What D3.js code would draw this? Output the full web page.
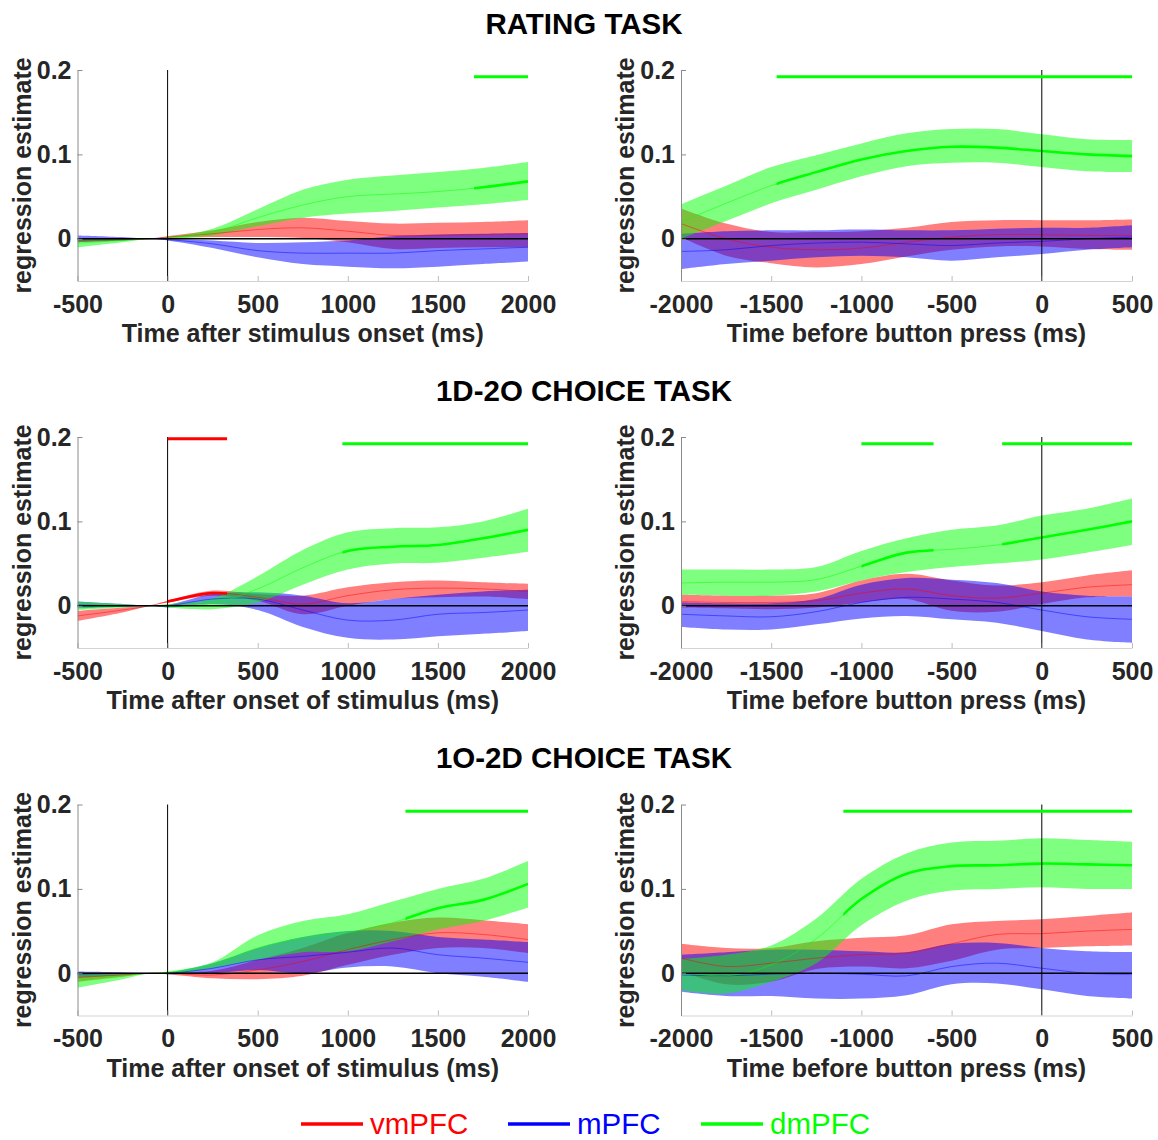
<!DOCTYPE html>
<html>
<head>
<meta charset="utf-8">
<script src="https://cdn.jsdelivr.net/npm/d3@7"></script>
<style>
  html, body { margin: 0; padding: 0; background: #fff; }
  svg { display: block; font-family: "Liberation Sans", Arial, Helvetica, sans-serif; }
</style>
</head>
<body>
<svg id="chart" width="1158" height="1140"></svg>
<script>
// ---------------- DATA ----------------
const seriesNames = ["vmPFC", "mPFC", "dmPFC"];
const seriesColors = ["#ff0000", "#0000ff", "#00ff00"];
const rowTitles = ["RATING TASK", "1D-2O CHOICE TASK", "1O-2D CHOICE TASK"];
const xLabelsLeft = ["Time after stimulus onset (ms)", "Time after onset of stimulus (ms)", "Time after onset of stimulus (ms)"];
const xLabelRight = "Time before button press (ms)";
const yLabel = "regression estimate";
const stimTicks = [-500, 0, 500, 1000, 1500, 2000];
const pressTicks = [-2000, -1500, -1000, -500, 0, 500];
const yTicks = [0, 0.1, 0.2];

// time grids
const tStim = [-500, -250, -100, 0, 250, 500, 750, 1000, 1250, 1500, 1750, 2000];
const tPress = [-2000, -1750, -1500, -1250, -1000, -750, -500, -250, 0, 250, 500];

// Panel 1: rating task, stimulus-locked
const ratingStimVmMean = [-0.002, -0.001, 0, 0.002, 0.006, 0.011, 0.013, 0.009, 0.004, 0.004, 0.005, 0.006];
const ratingStimVmLo   = [-0.004, -0.002, 0, 0.001, 0.002, 0.002, 0.001, -0.004, -0.012, -0.011, -0.010, -0.010];
const ratingStimVmHi   = [0.000, 0.000, 0, 0.003, 0.010, 0.020, 0.025, 0.021, 0.018, 0.019, 0.020, 0.022];
const ratingStimMMean  = [0.000, 0.000, 0, -0.001, -0.006, -0.014, -0.017, -0.017, -0.017, -0.014, -0.012, -0.010];
const ratingStimMLo    = [-0.004, -0.002, 0, -0.002, -0.011, -0.022, -0.030, -0.033, -0.035, -0.033, -0.030, -0.027];
const ratingStimMHi    = [0.004, 0.002, 0, 0.000, -0.002, -0.005, -0.004, -0.002, 0.003, 0.005, 0.006, 0.007];
const ratingStimDmMean = [-0.005, -0.002, 0, 0.001, 0.008, 0.025, 0.040, 0.050, 0.053, 0.056, 0.061, 0.068];
const ratingStimDmLo   = [-0.010, -0.004, 0, 0.000, 0.004, 0.015, 0.025, 0.030, 0.033, 0.037, 0.041, 0.046];
const ratingStimDmHi   = [0.000, 0.000, 0, 0.002, 0.012, 0.035, 0.058, 0.070, 0.075, 0.079, 0.084, 0.091];
const ratingStimSig = [[], [], [[1700, 2000]]];

// Panel 2: rating task, response-locked
const ratingPressVmMean = [0.018, 0.000, -0.010, -0.013, -0.011, -0.004, 0.002, 0.005, 0.005, 0.004, 0.004];
const ratingPressVmLo   = [0.002, -0.020, -0.029, -0.034, -0.030, -0.021, -0.013, -0.009, -0.009, -0.012, -0.013];
const ratingPressVmHi   = [0.036, 0.018, 0.008, 0.008, 0.009, 0.013, 0.020, 0.022, 0.022, 0.022, 0.023];
const ratingPressMMean  = [-0.015, -0.013, -0.008, -0.005, -0.004, -0.006, -0.008, -0.005, -0.003, 0.000, 0.002];
const ratingPressMLo    = [-0.036, -0.030, -0.026, -0.022, -0.020, -0.022, -0.026, -0.022, -0.018, -0.013, -0.010];
const ratingPressMHi    = [0.006, 0.009, 0.010, 0.010, 0.011, 0.010, 0.010, 0.012, 0.013, 0.013, 0.016];
const ratingPressDmMean = [0.020, 0.042, 0.063, 0.079, 0.094, 0.104, 0.109, 0.108, 0.104, 0.100, 0.098];
const ratingPressDmLo   = [0.000, 0.021, 0.042, 0.058, 0.074, 0.086, 0.090, 0.090, 0.085, 0.080, 0.079];
const ratingPressDmHi   = [0.041, 0.063, 0.085, 0.099, 0.113, 0.125, 0.130, 0.130, 0.124, 0.118, 0.117];
const ratingPressSig = [[], [], [[-1470, 500]]];

// Panel 3: 1D-2O choice, stimulus-locked
const choice1StimVmMean = [-0.012, -0.005, 0, 0.005, 0.015, 0.010, 0.002, 0.012, 0.019, 0.021, 0.020, 0.017];
const choice1StimVmLo   = [-0.018, -0.008, 0, 0.004, 0.012, 0.006, -0.010, 0.000, 0.008, 0.010, 0.011, 0.008];
const choice1StimVmHi   = [-0.006, -0.002, 0, 0.006, 0.018, 0.014, 0.012, 0.022, 0.028, 0.030, 0.028, 0.026];
const choice1StimMMean  = [0.001, 0.000, 0, 0.000, 0.008, 0.008, -0.005, -0.017, -0.017, -0.010, -0.008, -0.005];
const choice1StimMLo    = [-0.003, -0.001, 0, -0.002, 0.002, -0.005, -0.025, -0.038, -0.040, -0.036, -0.033, -0.030];
const choice1StimMHi    = [0.005, 0.002, 0, 0.001, 0.014, 0.016, 0.012, 0.003, 0.008, 0.013, 0.017, 0.019];
const choice1StimDmMean = [0.000, 0.000, 0, 0.000, 0.003, 0.020, 0.045, 0.065, 0.070, 0.072, 0.080, 0.090];
const choice1StimDmLo   = [-0.005, -0.002, 0, -0.002, -0.004, 0.004, 0.025, 0.043, 0.050, 0.051, 0.057, 0.064];
const choice1StimDmHi   = [0.005, 0.002, 0, 0.002, 0.009, 0.035, 0.066, 0.087, 0.092, 0.093, 0.100, 0.115];
const choice1StimSig = [[[0, 330]], [], [[970, 2000]]];

// Panel 4: 1D-2O choice, response-locked
const choice1PressVmMean = [0.005, 0.004, 0.004, 0.006, 0.015, 0.020, 0.012, 0.009, 0.015, 0.022, 0.025];
const choice1PressVmLo   = [-0.002, -0.003, -0.004, -0.002, 0.004, 0.008, -0.006, -0.007, 0.002, 0.010, 0.011];
const choice1PressVmHi   = [0.013, 0.012, 0.012, 0.015, 0.030, 0.038, 0.030, 0.024, 0.028, 0.036, 0.042];
const choice1PressMMean  = [-0.010, -0.012, -0.013, -0.007, 0.004, 0.010, 0.008, 0.004, -0.005, -0.013, -0.016];
const choice1PressMLo    = [-0.025, -0.028, -0.028, -0.022, -0.015, -0.012, -0.016, -0.020, -0.030, -0.040, -0.044];
const choice1PressMHi    = [0.004, 0.003, 0.003, 0.008, 0.025, 0.033, 0.031, 0.027, 0.017, 0.012, 0.011];
const choice1PressDmMean = [0.027, 0.028, 0.028, 0.031, 0.047, 0.063, 0.067, 0.072, 0.081, 0.090, 0.100];
const choice1PressDmLo   = [0.013, 0.012, 0.012, 0.017, 0.030, 0.040, 0.046, 0.050, 0.055, 0.063, 0.072];
const choice1PressDmHi   = [0.043, 0.043, 0.043, 0.046, 0.065, 0.080, 0.090, 0.095, 0.107, 0.115, 0.127];
const choice1PressSig = [[], [], [[-1000, -600], [-220, 500]]];

// Panel 5: 1O-2D choice, stimulus-locked
const choice2StimVmMean = [-0.005, -0.002, 0, 0.000, -0.002, 0.004, 0.014, 0.028, 0.040, 0.048, 0.046, 0.040];
const choice2StimVmLo   = [-0.010, -0.004, 0, -0.001, -0.006, -0.007, -0.003, 0.010, 0.022, 0.030, 0.030, 0.024];
const choice2StimVmHi   = [0.000, 0.000, 0, 0.001, 0.003, 0.016, 0.030, 0.048, 0.060, 0.066, 0.063, 0.058];
const choice2StimMMean  = [-0.001, 0.000, 0, 0.000, 0.006, 0.016, 0.020, 0.025, 0.030, 0.022, 0.018, 0.013];
const choice2StimMLo    = [-0.005, -0.002, 0, -0.001, 0.000, 0.004, 0.000, 0.007, 0.008, 0.000, -0.004, -0.010];
const choice2StimMHi    = [0.002, 0.001, 0, 0.001, 0.012, 0.030, 0.043, 0.050, 0.050, 0.043, 0.040, 0.037];
const choice2StimDmMean = [-0.007, -0.003, 0, 0.001, 0.010, 0.030, 0.042, 0.048, 0.060, 0.077, 0.087, 0.106];
const choice2StimDmLo   = [-0.017, -0.007, 0, -0.001, 0.006, 0.016, 0.025, 0.026, 0.038, 0.052, 0.062, 0.078];
const choice2StimDmHi   = [0.000, 0.000, 0, 0.002, 0.013, 0.045, 0.062, 0.070, 0.085, 0.100, 0.112, 0.133];
const choice2StimSig = [[], [], [[1320, 2000]]];

// Panel 6: 1O-2D choice, response-locked
const choice2PressVmMean = [0.018, 0.008, 0.012, 0.018, 0.022, 0.024, 0.035, 0.046, 0.047, 0.050, 0.052];
const choice2PressVmLo   = [0.002, -0.013, -0.010, 0.005, 0.008, 0.006, 0.015, 0.028, 0.030, 0.032, 0.033];
const choice2PressVmHi   = [0.035, 0.030, 0.030, 0.038, 0.042, 0.045, 0.058, 0.062, 0.064, 0.068, 0.072];
const choice2PressMMean  = [-0.002, -0.003, -0.001, 0.000, -0.001, -0.003, 0.008, 0.012, 0.006, 0.000, -0.001];
const choice2PressMLo    = [-0.022, -0.027, -0.027, -0.030, -0.030, -0.026, -0.013, -0.012, -0.019, -0.027, -0.030];
const choice2PressMHi    = [0.022, 0.025, 0.028, 0.028, 0.026, 0.025, 0.035, 0.036, 0.030, 0.026, 0.025];
const choice2PressDmMean = [0.002, -0.003, 0.010, 0.041, 0.088, 0.118, 0.127, 0.128, 0.130, 0.129, 0.128];
const choice2PressDmLo   = [-0.020, -0.024, -0.010, 0.012, 0.057, 0.086, 0.098, 0.100, 0.102, 0.100, 0.100];
const choice2PressDmHi   = [0.017, 0.022, 0.033, 0.065, 0.112, 0.142, 0.155, 0.157, 0.160, 0.158, 0.156];
const choice2PressSig = [[], [], [[-1100, 500]]];

// significance bar heights per series
const sigLevels = [0.198, 0.196, 0.192];

// ---------------- BUILD PANELS ----------------
function mk(t, means, los, his, sig) {
  return { t, series: [0, 1, 2].map(i => ({ mean: means[i], lo: los[i], hi: his[i], sig: sig[i] })) };
}
const panels = [
  [mk(tStim, [ratingStimVmMean, ratingStimMMean, ratingStimDmMean], [ratingStimVmLo, ratingStimMLo, ratingStimDmLo], [ratingStimVmHi, ratingStimMHi, ratingStimDmHi], ratingStimSig),
   mk(tPress, [ratingPressVmMean, ratingPressMMean, ratingPressDmMean], [ratingPressVmLo, ratingPressMLo, ratingPressDmLo], [ratingPressVmHi, ratingPressMHi, ratingPressDmHi], ratingPressSig)],
  [mk(tStim, [choice1StimVmMean, choice1StimMMean, choice1StimDmMean], [choice1StimVmLo, choice1StimMLo, choice1StimDmLo], [choice1StimVmHi, choice1StimMHi, choice1StimDmHi], choice1StimSig),
   mk(tPress, [choice1PressVmMean, choice1PressMMean, choice1PressDmMean], [choice1PressVmLo, choice1PressMLo, choice1PressDmLo], [choice1PressVmHi, choice1PressMHi, choice1PressDmHi], choice1PressSig)],
  [mk(tStim, [choice2StimVmMean, choice2StimMMean, choice2StimDmMean], [choice2StimVmLo, choice2StimMLo, choice2StimDmLo], [choice2StimVmHi, choice2StimMHi, choice2StimDmHi], choice2StimSig),
   mk(tPress, [choice2PressVmMean, choice2PressMMean, choice2PressDmMean], [choice2PressVmLo, choice2PressMLo, choice2PressDmLo], [choice2PressVmHi, choice2PressMHi, choice2PressDmHi], choice2PressSig)]
];

// ---------------- LAYOUT ----------------
const svg = d3.select("#chart");
const colX = [[77.5, 528], [681, 1132]];
const rowTop = [70, 437, 804.5];
const plotH = 211;
const titleY = [34, 401, 768];
const axisColor = "#262626";
const curve = d3.curveCatmullRom.alpha(0.5);
let clipId = 0;

rowTitles.forEach((tt, r) => {
  svg.append("text").attr("x", 584).attr("y", titleY[r]).attr("text-anchor", "middle")
    .attr("font-size", 29.5).attr("font-weight", "bold").attr("fill", "#000").text(tt);
});

panels.forEach((row, r) => {
  row.forEach((p, c) => {
    const left = c === 0;
    const x = d3.scaleLinear().domain(left ? [-500, 2000] : [-2000, 500]).range(colX[c]);
    const y = d3.scaleLinear().domain([-0.05, 0.2]).range([rowTop[r] + plotH, rowTop[r]]);
    const g = svg.append("g");
    const cid = "clip" + (clipId++);
    svg.append("clipPath").attr("id", cid).append("rect")
      .attr("x", x.range()[0]).attr("y", y.range()[1] - 5)
      .attr("width", x.range()[1] - x.range()[0]).attr("height", plotH + 5);

    const plot = g.append("g").attr("clip-path", `url(#${cid})`);
    const idx = d3.range(p.t.length);
    const area = s => d3.area().curve(curve)
      .x(i => x(p.t[i])).y0(i => y(s.lo[i])).y1(i => y(s.hi[i]));
    const line = s => d3.line().curve(curve)
      .x(i => x(p.t[i])).y(i => y(s.mean[i]));

    // bands
    p.series.forEach((s, k) => {
      plot.append("path").attr("d", area(s)(idx)).attr("fill", seriesColors[k]).attr("fill-opacity", 0.5);
    });
    // thin mean lines
    p.series.forEach((s, k) => {
      plot.append("path").attr("d", line(s)(idx)).attr("fill", "none")
        .attr("stroke", seriesColors[k]).attr("stroke-width", 0.8).attr("stroke-opacity", 0.6);
    });
    // thick significant segments (clipped to the significant window)
    p.series.forEach((s, k) => {
      s.sig.forEach(([a, b]) => {
        const sid = "clip" + (clipId++);
        svg.append("clipPath").attr("id", sid).append("rect")
          .attr("x", x(a)).attr("y", y.range()[1]).attr("width", x(b) - x(a)).attr("height", plotH);
        g.append("path").attr("d", line(s)(idx)).attr("fill", "none").attr("clip-path", `url(#${sid})`)
          .attr("stroke", seriesColors[k]).attr("stroke-width", 2.6);
      });
    });
    // zero lines
    g.append("line").attr("x1", x.range()[0]).attr("x2", x.range()[1]).attr("y1", y(0)).attr("y2", y(0))
      .attr("stroke", "#000").attr("stroke-width", 1.4);
    g.append("line").attr("x1", x(0)).attr("x2", x(0)).attr("y1", y(0.2)).attr("y2", y(-0.05))
      .attr("stroke", "#000").attr("stroke-width", 1);

    // significance bars
    p.series.forEach((s, k) => {
      s.sig.forEach(([a, b]) => {
        g.append("line").attr("x1", x(a)).attr("x2", x(b)).attr("y1", y(sigLevels[k])).attr("y2", y(sigLevels[k]))
          .attr("stroke", seriesColors[k]).attr("stroke-width", 3);
      });
    });

    // axes
    const yb = y(-0.05);
    const xa = g.append("g").attr("transform", `translate(0,${yb})`)
      .call(d3.axisBottom(x).tickValues(left ? stimTicks : pressTicks).tickFormat(d => String(d))
        .tickSizeInner(-5).tickSizeOuter(0).tickPadding(12));
    xa.select(".domain").attr("stroke", "#d4d4d4");
    xa.selectAll(".tick line").attr("stroke", "#bdbdbd");
    xa.selectAll(".tick text").attr("font-size", 25).attr("font-weight", "bold").attr("fill", axisColor)
      .attr("font-family", "Liberation Sans, Arial, sans-serif").attr("dy", "0.71em").attr("y", 14);

    const ya = g.append("g").attr("transform", `translate(${x.range()[0]},0)`)
      .call(d3.axisLeft(y).tickValues(yTicks).tickFormat(d => d === 0 ? "0" : d3.format(".1f")(d))
        .tickSizeInner(-5).tickSizeOuter(0).tickPadding(6));
    ya.select(".domain").attr("stroke", "#8a8a8a");
    ya.selectAll(".tick line").attr("stroke", "#8a8a8a");
    ya.selectAll(".tick text").attr("font-size", 25).attr("font-weight", "bold").attr("fill", axisColor)
      .attr("font-family", "Liberation Sans, Arial, sans-serif");

    // axis labels
    g.append("text").attr("x", (x.range()[0] + x.range()[1]) / 2).attr("y", rowTop[r] + 272)
      .attr("text-anchor", "middle").attr("font-size", 25).attr("font-weight", "bold").attr("fill", axisColor)
      .text(left ? xLabelsLeft[r] : xLabelRight);
    const ly = (y.range()[0] + y.range()[1]) / 2;
    g.append("text").attr("transform", `translate(${x.range()[0] - 47},${ly}) rotate(-90)`)
      .attr("text-anchor", "middle").attr("font-size", 25).attr("font-weight", "bold").attr("fill", axisColor)
      .text(yLabel);
  });
});

// ---------------- LEGEND ----------------
const legendX = [301, 508, 701];
const legend = svg.append("g");
seriesNames.forEach((n, k) => {
  legend.append("line").attr("x1", legendX[k]).attr("x2", legendX[k] + 62).attr("y1", 1124).attr("y2", 1124)
    .attr("stroke", seriesColors[k]).attr("stroke-width", 3.5);
  legend.append("text").attr("x", legendX[k] + 69).attr("y", 1134).attr("font-size", 29.5)
    .attr("fill", seriesColors[k]).text(n);
});
</script>
</body>
</html>
